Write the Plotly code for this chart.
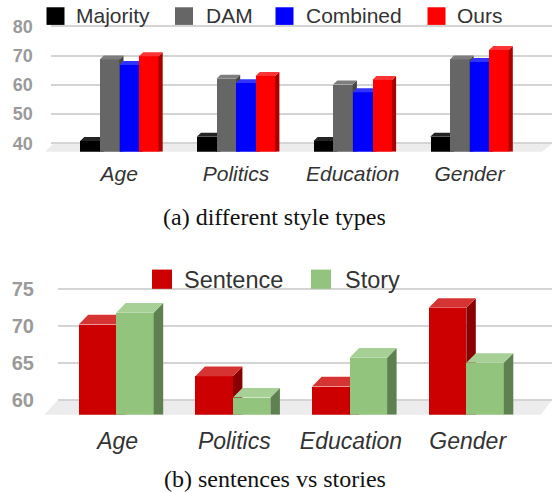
import plotly.graph_objects as go

categories = ["Age", "Politics", "Education", "Gender"]

series_a_names = ["Majority", "DAM", "Combined", "Ours"]
majority = [40.8, 42.3, 40.8, 42.3]
dam = [68.7, 62.1, 60.1, 68.7]
combined = [66.8, 60.6, 57.5, 67.8]
ours = [69.8, 63.05, 61.7, 71.9]

series_b_names = ["Sentence", "Story"]
sentence = [70.2, 63.2, 61.8, 72.45]
story = [71.8, 60.3, 65.7, 65.0]

colors_a = [("#000000", "#242424", "#000000"), ("#666666", "#7d7d7d", "#474747"),
            ("#0000ff", "#3333ff", "#0000b0"), ("#ff0000", "#ff3333", "#aa0000")]
colors_b = [("#cc0000", "#d63333", "#880000"), ("#93c47d", "#a6d096", "#5f8050")]

W, H = 552, 492
GRID = "#d4d4d4"
SANS = "Liberation Sans"
SERIF = "Liberation Serif"


def build(fig, layout, series, colors, names, cfg, axis_ids):
    unit = cfg["unit"]
    xr = [(cfg["left"] - cfg["c0"]) / unit, (W - cfg["c0"]) / unit]
    pxv = cfg["pxv"]
    yr = [cfg["base"], cfg["y_ref"] + (cfg["py_ref"] - cfg["top"]) / pxv]
    n = len(series)
    w = cfg["bw"] / unit
    dx = cfg["dx"] / unit
    dy = cfg["dy"] / pxv
    dom_x = [cfg["left"] / W, 1]
    dom_y = [1 - cfg["py_base"] / H, 1 - cfg["top"] / H]
    for k, (vals, col, name, ax) in enumerate(zip(series, colors, names, axis_ids)):
        xs = [i + (k - (n - 1) / 2) * w for i in range(4)]
        xa = f"x{ax}" if ax > 1 else "x"
        ya = f"y{ax}" if ax > 1 else "y"
        fig.add_trace(go.Bar(x=xs, y=[v - cfg["base"] for v in vals], base=cfg["base"], width=w,
                             marker=dict(color=col[0], line_width=0), name=name,
                             showlegend=False, xaxis=xa, yaxis=ya))
        side_x, side_y, cap_x, cap_y = [], [], [], []
        for x, v in zip(xs, vals):
            x0, x1 = x - w / 2, x + w / 2
            side_x += [x1, x1 + dx, x1 + dx, x1, None]
            side_y += [cfg["base"], cfg["base"], v + dy, v, None]
            cap_x += [x0, x0 + dx, x1 + dx, x1, None]
            cap_y += [v, v + dy, v + dy, v, None]
        for px, py, c in ((side_x, side_y, col[2]), (cap_x, cap_y, col[1])):
            fig.add_trace(go.Scatter(x=px, y=py, mode="lines", fill="toself", fillcolor=c,
                                     line=dict(width=0, color=c), hoverinfo="skip",
                                     showlegend=False, xaxis=xa, yaxis=ya))
        xkey = f"xaxis{ax}" if ax > 1 else "xaxis"
        ykey = f"yaxis{ax}" if ax > 1 else "yaxis"
        if k == 0:
            layout[xkey] = dict(domain=dom_x, range=xr, anchor=ya, showgrid=False, zeroline=False,
                                showline=False, ticks="", tickmode="array",
                                tickvals=[i + cfg["lab_dx"] for i in range(4)], ticktext=categories,
                                ticklabelstandoff=cfg["x_standoff"],
                                tickfont=dict(family=SANS, size=cfg["xfs"], color="#333333", style="italic"))
            layout[ykey] = dict(domain=dom_y, range=yr, anchor=xa, showgrid=True, gridcolor=GRID,
                                gridwidth=1.5, zeroline=False, showline=False, ticks="",
                                tickmode="array", tickvals=cfg["yticks"],
                                ticktext=[str(t) for t in cfg["yticks"]],
                                ticklabelstandoff=cfg["y_standoff"],
                                tickfont=dict(family=SANS, size=cfg["yfs"], color="#9a9a9a", weight="bold"))
            cfg["main"] = (xa, ya)
        else:
            layout[xkey] = dict(domain=dom_x, range=xr, anchor=ya, overlaying=cfg["main"][0], visible=False)
            layout[ykey] = dict(domain=dom_y, range=yr, anchor=xa, overlaying=cfg["main"][1], visible=False)


cfg_a = dict(unit=116.7, c0=119.3, left=50.7, bw=19.6, dx=4.2, dy=4, pxv=2.95, base=37.17, py_base=152.3,
             y_ref=80, py_ref=26.5, top=5, yticks=[40, 50, 60, 70, 80], xfs=21, yfs=18,
             lab_dx=0.0, x_standoff=7, y_standoff=17)
cfg_b = dict(unit=116.7, c0=116.2, left=58, bw=37.5, dx=9.5, dy=9.7, pxv=7.41, base=57.98, py_base=416.4,
             y_ref=75, py_ref=290.2, top=262, yticks=[60, 65, 70, 75], xfs=23, yfs=20,
             lab_dx=0.012, x_standoff=10, y_standoff=23)

layout = dict(width=W, height=H, autosize=False, margin=dict(l=0, r=0, t=0, b=0),
              paper_bgcolor="white", plot_bgcolor="rgba(0,0,0,0)", barmode="overlay",
              showlegend=False, bargap=0)
fig = go.Figure()
build(fig, layout, [majority, dam, combined, ours], colors_a, series_a_names, cfg_a, [1, 3, 4, 5])
build(fig, layout, [sentence, story], colors_b, series_b_names, cfg_b, [2, 6])


def py(y):
    return 1 - y / H


def pxf(x):
    return x / W


shapes, annos = [], []
for pts in ([(45, 152.3), (53, 144.5), (552, 144.5), (542, 152.3)],
            [(44, 416.4), (58, 401.4), (552, 401.4), (541, 416.4)]):
    path = "M " + " L ".join(f"{pxf(x):.4f},{py(y):.4f}" for x, y in pts) + " Z"
    shapes.append(dict(type="path", path=path, xref="paper", yref="paper", layer="below",
                       fillcolor="#ececec", line_width=0))

legend_a = [(46.5, 64.5, 74.3), (175, 193, 203.5), (275.5, 293.5, 303.5), (427.5, 445.5, 455.5)]
for (x0, x1, tx), name, col in zip(legend_a, series_a_names, colors_a):
    shapes.append(dict(type="rect", xref="paper", yref="paper", x0=pxf(x0), x1=pxf(x1), y0=py(25), y1=py(7.3),
                       fillcolor=col[0], line_width=0))
    annos.append(dict(text=name, xref="paper", yref="paper", x=pxf(tx), y=py(15.7), xanchor="left", yanchor="middle",
                      showarrow=False, font=dict(family=SANS, size=21, color="#333333")))
legend_b = [(152, 172, 181.5), (311, 331, 342.5)]
for (x0, x1, tx), name, col in zip(legend_b, series_b_names, colors_b):
    shapes.append(dict(type="rect", xref="paper", yref="paper", x0=pxf(x0), x1=pxf(x1), y0=py(290), y1=py(270.7),
                       fillcolor=col[0], line_width=0))
    annos.append(dict(text=name, xref="paper", yref="paper", x=pxf(tx), y=py(280.7), xanchor="left", yanchor="middle",
                      showarrow=False, font=dict(family=SANS, size=23.5, color="#333333")))
for text, y in (("(a) different style types", 217.5), ("(b) sentences vs stories", 481)):
    annos.append(dict(text=text, xref="paper", yref="paper", x=pxf(274.5), y=py(y), xanchor="center", yanchor="middle",
                      showarrow=False, font=dict(family=SERIF, size=24, color="#111111")))
layout["shapes"] = shapes
layout["annotations"] = annos
fig.update_layout(**layout)
fig.write_html("out.html", config=dict(displayModeBar=False),
               post_script="document.body.style.margin='0';document.documentElement.style.overflow='hidden';")
